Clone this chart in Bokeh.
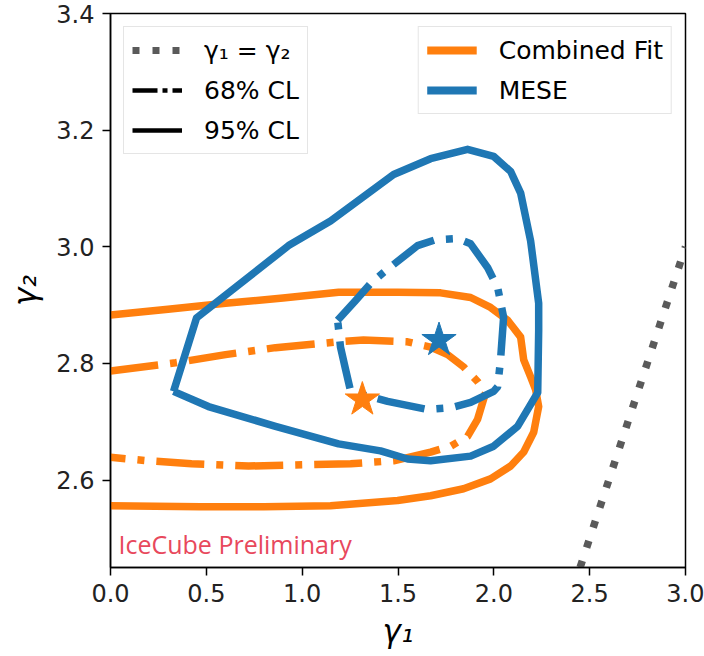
from bokeh.plotting import figure
from bokeh.models import Legend, LegendItem, Label, FixedTicker, Range1d
from bokeh.embed import file_html
from bokeh.resources import INLINE

NaN = float("nan")

# ---- data ----
combined_95_g1 = [0.000, 0.300, 0.600, 0.900, 1.190, 1.498, 1.722, 1.879, 1.983, 2.072, 2.140, 2.156,
                  2.192, 2.218, 2.234, 2.208, 2.156, 2.088, 1.983, 1.842, 1.670, 1.498, 1.148, 0.800,
                  0.470, 0.000]
combined_95_g2 = [2.883, 2.893, 2.903, 2.912, 2.922, 2.922, 2.921, 2.913, 2.896, 2.874, 2.845, 2.806,
                  2.777, 2.755, 2.726, 2.682, 2.648, 2.624, 2.602, 2.585, 2.573, 2.565, 2.556, 2.554,
                  2.554, 2.556]

combined_68_g1 = [0.000, 0.339, 0.600, 0.861, 1.190, 1.320, 1.550, 1.670, 1.759, 1.842, 1.915, 1.957,
                  1.915, 1.863, 1.775, 1.670, 1.477, 1.253, 0.720, 0.423, 0.198, 0.000]
combined_68_g2 = [2.787, 2.801, 2.815, 2.827, 2.837, 2.840, 2.837, 2.828, 2.815, 2.794, 2.769, 2.750,
                  2.704, 2.675, 2.658, 2.648, 2.633, 2.628, 2.624, 2.628, 2.633, 2.639]

mese_95_g1 = [0.329, 0.449, 0.929, 1.148, 1.477, 1.670, 1.863, 1.999, 2.088, 2.140, 2.192, 2.234,
              2.234, 2.229, 2.124, 1.999, 1.879, 1.670, 1.550, 1.409, 1.190, 0.861, 0.511, 0.329]
mese_95_g2 = [2.752, 2.878, 3.002, 3.044, 3.124, 3.151, 3.167, 3.155, 3.129, 3.092, 3.010, 2.903,
              2.857, 2.750, 2.692, 2.658, 2.641, 2.633, 2.636, 2.650, 2.662, 2.692, 2.726, 2.752]

mese_68_g1 = [1.185, 1.279, 1.357, 1.425, 1.602, 1.696, 1.811, 1.879, 1.968, 2.020, 2.051, 2.035,
              2.020, 1.999, 1.879, 1.775, 1.654, 1.446, 1.253, 1.227, 1.200, 1.185]
mese_68_g2 = [2.874, 2.908, 2.937, 2.956, 3.002, 3.012, 3.014, 3.005, 2.964, 2.930, 2.879, 2.806,
              2.760, 2.752, 2.733, 2.724, 2.721, 2.735, 2.752, 2.789, 2.828, 2.874]

best_fit_g1 = [1.314, 1.714]   # Combined Fit, MESE
best_fit_g2 = [2.738, 2.840]

equal_line = [2.45, 3.0]       # gamma1 = gamma2

x_ticks = [0.0, 0.5, 1.0, 1.5, 2.0, 2.5, 3.0]
y_ticks = [2.6, 2.8, 3.0, 3.2, 3.4]

series_names = ["Combined Fit", "MESE"]
style_names = ["γ₁ = γ₂", "68% CL", "95% CL"]

ORANGE = "#ff7f0e"
BLUE = "#1f77b4"
GRAY = "#5a5a5a"
FONT = "DejaVu Sans"

p = figure(width=704, height=656, frame_width=575, frame_height=554,
           x_range=Range1d(0, 3.0), y_range=Range1d(2.45, 3.4),
           output_backend="svg", toolbar_location=None,
           min_border_left=110, min_border_right=19, min_border_top=13, min_border_bottom=89)
p.background_fill_color = "white"
p.border_fill_color = "white"
p.grid.visible = False
p.outline_line_color = "black"
p.outline_line_width = 1.5
p.outline_line_alpha = 1.0

for ax in (p.xaxis[0], p.yaxis[0]):
    ax.axis_line_width = 1.5
    ax.axis_line_color = "black"
    ax.major_tick_out = 8
    ax.major_tick_in = 0
    ax.major_tick_line_width = 1.5
    ax.minor_tick_out = 0
    ax.minor_tick_in = 0
    ax.major_label_text_font = FONT
    ax.major_label_text_font_size = "24px"
    ax.major_label_text_color = "#222222"
    ax.axis_label_text_font = FONT
    ax.axis_label_text_font_size = "31px"
    ax.axis_label_text_font_style = "italic"
    ax.axis_label_text_color = "black"
    ax.major_label_standoff = 8

p.xaxis.ticker = FixedTicker(ticks=x_ticks)
p.yaxis.ticker = FixedTicker(ticks=y_ticks)
p.xaxis.major_label_overrides = {t: f"{t:.1f}" for t in x_ticks}
p.yaxis.major_label_overrides = {t: f"{t:.1f}" for t in y_ticks}
p.xaxis.axis_label = "γ₁"
p.yaxis.axis_label = "γ₂"
p.xaxis.axis_label_standoff = 8
p.yaxis.axis_label_standoff = 10

LW = 7.5
DASHDOT = "48 12 7 12"

# gamma1 = gamma2 line
r_eq = p.line(equal_line, equal_line, line_color=GRAY, line_width=LW, line_dash="7 14",
              line_cap="butt")

# Combined fit contours
r_c95 = p.line(combined_95_g1, combined_95_g2, line_color=ORANGE, line_width=LW,
               line_join="round", line_cap="butt")
r_c68 = p.line(combined_68_g1, combined_68_g2, line_color=ORANGE, line_width=LW,
               line_dash=DASHDOT, line_join="round", line_cap="butt")

# MESE contours
r_m95 = p.line(mese_95_g1, mese_95_g2, line_color=BLUE, line_width=LW,
               line_join="round", line_cap="butt")
r_m68 = p.line(mese_68_g1, mese_68_g2, line_color=BLUE, line_width=LW,
               line_dash=DASHDOT, line_join="round", line_cap="butt")

# best fit stars
p.scatter([best_fit_g1[0]], [best_fit_g2[0]], marker="star", size=36, fill_color=ORANGE,
          line_color=ORANGE, line_width=1)
p.scatter([best_fit_g1[1]], [best_fit_g2[1]], marker="star", size=36, fill_color=BLUE,
          line_color=BLUE, line_width=1)

# legend-only renderers (NaN data: nothing drawn in the plot)
r_d_eq = p.line([NaN, NaN], [NaN, NaN], line_color=GRAY, line_width=7, line_dash="7 13",
                line_cap="butt")
r_d68 = p.line([NaN, NaN], [NaN, NaN], line_color="black", line_width=4.5,
               line_dash="25 5 5 5", line_cap="butt")
r_d95 = p.line([NaN, NaN], [NaN, NaN], line_color="black", line_width=4.5, line_cap="butt")
r_dc = p.line([NaN, NaN], [NaN, NaN], line_color=ORANGE, line_width=8, line_cap="butt")
r_dm = p.line([NaN, NaN], [NaN, NaN], line_color=BLUE, line_width=8, line_cap="butt")

def make_legend(items, location):
    lg = Legend(items=items, location=location)
    lg.label_text_font = FONT
    lg.label_text_font_size = "25px"
    lg.label_text_color = "black"
    lg.glyph_width = 50
    lg.glyph_height = 30
    lg.label_height = 30
    lg.spacing = 10
    lg.padding = 8
    lg.margin = 13
    lg.label_standoff = 22
    lg.border_line_color = "#cccccc"
    lg.border_line_width = 1.5
    lg.background_fill_color = "white"
    lg.background_fill_alpha = 0.9
    return lg

style_legend = make_legend([
    LegendItem(label=style_names[0], renderers=[r_d_eq]),
    LegendItem(label=style_names[1], renderers=[r_d68]),
    LegendItem(label=style_names[2], renderers=[r_d95]),
], "top_left")
series_legend = make_legend([
    LegendItem(label=series_names[0], renderers=[r_dc]),
    LegendItem(label=series_names[1], renderers=[r_dm]),
], "top_right")
p.add_layout(style_legend)
p.add_layout(series_legend)

p.add_layout(Label(x=8, y=24, x_units="screen", y_units="screen", text="IceCube Preliminary",
                   text_font="Open Sans", text_font_size="25px", text_color="#e8485c",
                   text_baseline="alphabetic"))

open("out.html", "w").write(file_html(p, INLINE))
